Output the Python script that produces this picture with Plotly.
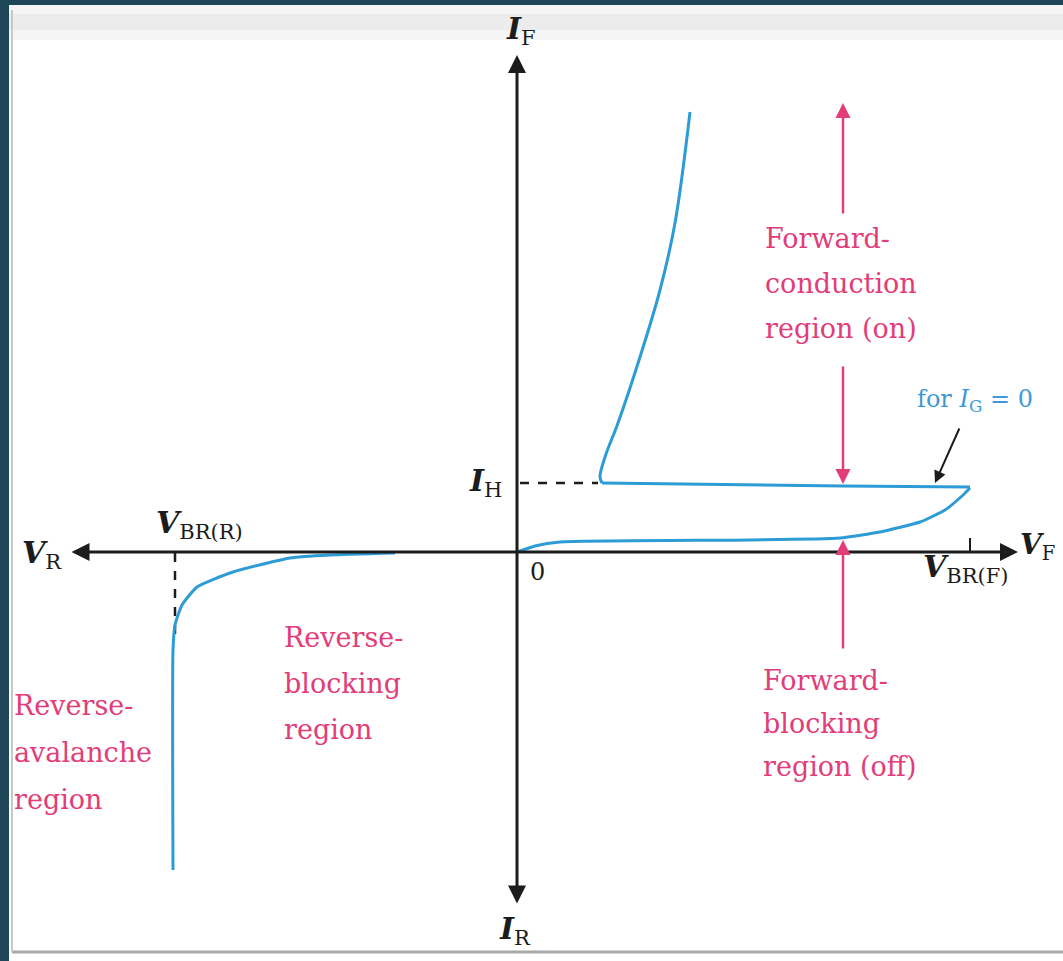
import plotly.graph_objects as go

W, H = 1063, 961
# coordinate system: V (right +), I (up +), arbitrary units, origin at axes crossing
X_RANGE = [-517, 546]
Y_RANGE = [-409, 552]

# Forward characteristic (I_G = 0): blocking branch -> breakover -> holding -> conduction
fwd_block_V = [0, 18, 43, 233, 323, 363, 403, 428, 445, 453]
fwd_block_I = [0, 6, 10, 12, 14, 20, 30, 42, 56, 64]
hold_V = [453, 326, 85]
hold_I = [65, 66, 69]
on_V = [85, 83, 88, 101, 123, 143, 158, 173]
on_I = [69, 75, 95, 129, 195, 262, 329, 440]

# Reverse characteristic
rev_V = [-122, -187, -227, -284, -320, -335, -342, -344, -344]
rev_I = [-1, -3, -6, -20, -35, -53, -73, -98, -318]

# Reference markers
I_H = 69
V_BR_R = -342
V_BR_F = 453

BLUE = "#2c9bd6"
PINK = "#e23d78"
DARK = "#1c1c1c"
SERIF = "DejaVu Serif"

fig = go.Figure()

def line(xs, ys, color=BLUE, width=3, smooth=0.5):
    fig.add_trace(go.Scatter(x=xs, y=ys, mode="lines", hoverinfo="skip",
                             line=dict(color=color, width=width, shape="spline", smoothing=smooth),
                             showlegend=False))

# dashed guide lines
fig.add_trace(go.Scatter(x=[3, I_H + 12], y=[I_H, I_H], mode="lines", showlegend=False,
                         line=dict(color=DARK, width=2.5, dash="dash")))
fig.add_trace(go.Scatter(x=[V_BR_R, V_BR_R], y=[-1, -88], mode="lines", showlegend=False,
                         line=dict(color=DARK, width=2.5, dash="dash")))
fig.add_trace(go.Scatter(x=[V_BR_F, V_BR_F], y=[0, 14], mode="lines", showlegend=False,
                         line=dict(color=DARK, width=2)))

line(fwd_block_V, fwd_block_I)
fig.add_trace(go.Scatter(x=hold_V, y=hold_I, mode="lines", showlegend=False,
                         line=dict(color=BLUE, width=3)))
line(on_V, on_I, smooth=1.0)
line(rev_V, rev_I)

ann = []
def arrow(x, y, ax, ay, color=DARK, width=3, side="end", head=2, size=1.2):
    ann.append(dict(x=x, y=y, ax=ax, ay=ay, xref="x", yref="y", axref="x", ayref="y",
                    text="", showarrow=True, arrowhead=head, startarrowhead=head,
                    arrowsize=size, startarrowsize=size, arrowwidth=width,
                    arrowcolor=color, arrowside=side))

# axes
arrow(501, 0, -447, 0, side="end+start", width=3)
arrow(0, 497, 0, -353, side="end+start", width=3)

# pink region arrows
arrow(326, 449, 326, 337, color=PINK, width=2.5)
arrow(326, 68, 326, 187, color=PINK, width=2.5)
arrow(326, 12, 326, -98, color=PINK, width=2.5)
# black pointer for I_G = 0
arrow(418, 69, 443, 125, color=DARK, width=2, size=1.2)

def text(x, y, s, size=28, color=DARK, xanchor="center", family=SERIF):
    ann.append(dict(x=x, y=y, xref="x", yref="y", text=s, showarrow=False,
                    xanchor=xanchor, yanchor="middle",
                    font=dict(family=family, size=size, color=color)))

text(4, 522, "<b><i>I</i></b><sub>F</sub>", size=30)
text(-2, -378, "<b><i>I</i></b><sub>R</sub>", size=30)
text(-475, -2, "<b><i>V</i></b><sub>R</sub>", size=30)
text(520, 6, "<b><i>V</i></b><sub>F</sub>", size=28)
text(-318, 28, "<b><i>V</i></b><sub>BR(R)</sub>", size=30)
text(448, -16, "<b><i>V</i></b><sub>BR(F)</sub>", size=30)
text(20, -20, "0", size=24)
text(-32, 70, "<b><i>I</i></b><sub>H</sub>", size=30)

for i, s in enumerate(["Forward-", "conduction", "region (on)"]):
    text(246, 314 - 45 * i, s, size=27, color=PINK, xanchor="left")
for i, s in enumerate(["Forward-", "blocking", "region (off)"]):
    text(244, -128 - 43 * i, s, size=27, color=PINK, xanchor="left")
for i, s in enumerate(["Reverse-", "blocking", "region"]):
    text(-235, -85 - 46 * i, s, size=27, color=PINK, xanchor="left")
for i, s in enumerate(["Reverse-", "avalanche", "region"]):
    text(-505, -153 - 47 * i, s, size=27, color=PINK, xanchor="left")

text(398, 152, "for <i>I</i><sub>G</sub> = 0", size=24, color="#3a9ad9", xanchor="left")

def px(v):
    return v / W
def py(v):
    return 1 - v / H

shapes = [
    dict(type="rect", xref="paper", yref="paper", x0=0, x1=1, y0=0, y1=1,
         fillcolor="#1d4756", line=dict(width=0), layer="below"),
    dict(type="rect", xref="paper", yref="paper", x0=px(9), x1=1, y0=0, y1=py(5),
         fillcolor="#ffffff", line=dict(width=0), layer="below"),
    dict(type="rect", xref="paper", yref="paper", x0=px(9), x1=1, y0=py(40), y1=py(5),
         fillcolor="#f5f5f5", line=dict(width=0), layer="below"),
    dict(type="rect", xref="paper", yref="paper", x0=px(9), x1=1, y0=py(30), y1=py(14),
         fillcolor="#ececec", line=dict(width=0), layer="below"),
    dict(type="line", xref="paper", yref="paper", x0=px(12), x1=1, y0=py(952), y1=py(952),
         line=dict(color="#a8a8a8", width=3), layer="below"),
    dict(type="line", xref="paper", yref="paper", x0=px(12), x1=px(12), y0=py(952), y1=py(10),
         line=dict(color="#c8c8c8", width=2), layer="below"),
]

fig.update_layout(
    width=W, height=H, margin=dict(l=0, r=0, t=0, b=0),
    paper_bgcolor="#1d4756", plot_bgcolor="rgba(0,0,0,0)",
    xaxis=dict(range=X_RANGE, visible=False, fixedrange=True),
    yaxis=dict(range=Y_RANGE, visible=False, fixedrange=True),
    annotations=ann, shapes=shapes, showlegend=False,
)

fig.write_html("out.html", config={"displayModeBar": False},
               post_script="document.body.style.margin='0';document.body.style.overflow='hidden';")
